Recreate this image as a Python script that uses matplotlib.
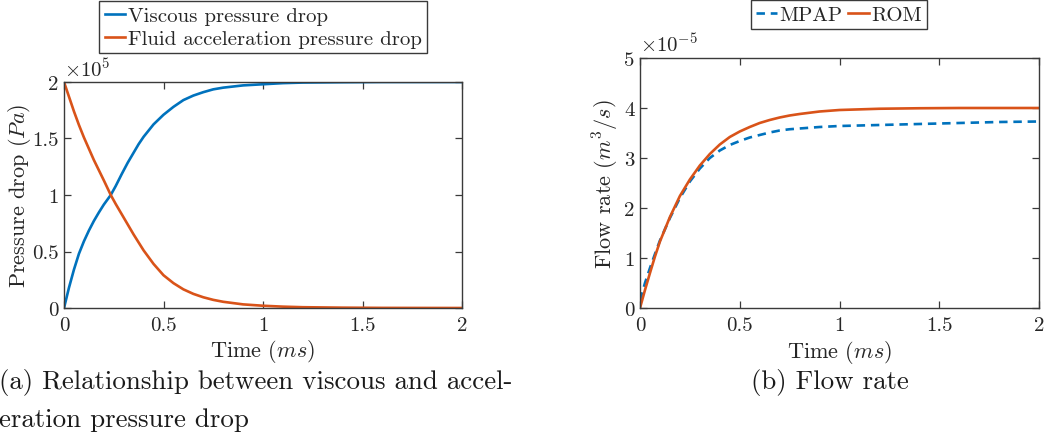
import numpy as np
import matplotlib
matplotlib.use("Agg")
import matplotlib.pyplot as plt
from matplotlib.ticker import FuncFormatter, FixedLocator

plt.rcParams["font.family"] = "serif"
plt.rcParams["font.serif"] = ["cmr10", "DejaVu Serif"]
plt.rcParams["mathtext.fontset"] = "cm"
plt.rcParams["axes.unicode_minus"] = False
plt.rcParams["axes.formatter.use_mathtext"] = True

# ---- (a) pressure drops, in units of 1e5 Pa ----
t_pressure = [0, 0.025, 0.05, 0.075, 0.1, 0.125, 0.15, 0.175, 0.2, 0.235,
              0.26, 0.29, 0.32, 0.35, 0.375, 0.4, 0.45, 0.5, 0.55, 0.6, 0.65,
              0.7, 0.75, 0.8, 0.9, 1.0, 1.1, 1.2, 1.4, 1.6, 1.8, 2.0]
viscous_drop = [0, 0.18, 0.34, 0.48, 0.59, 0.685, 0.77, 0.845, 0.915, 1.0,
                1.08, 1.185, 1.285, 1.375, 1.45, 1.515, 1.625, 1.71, 1.78,
                1.84, 1.88, 1.91, 1.935, 1.95, 1.97, 1.98, 1.99, 1.995, 1.998,
                2.0, 2.0, 2.0]
accel_drop = [2.0, 1.87, 1.74, 1.62, 1.51, 1.41, 1.31, 1.22, 1.13, 1.0,
              0.92, 0.83, 0.74, 0.65, 0.58, 0.51, 0.39, 0.29, 0.22, 0.165,
              0.125, 0.095, 0.072, 0.055, 0.032, 0.02, 0.012, 0.007, 0.003,
              0.001, 0.0005, 0.0]

# ---- (b) flow rate, in units of 1e-5 m^3/s ----
t_flow = [0, 0.025, 0.05, 0.075, 0.1, 0.15, 0.2, 0.25, 0.3, 0.35, 0.4, 0.45,
          0.5, 0.55, 0.6, 0.65, 0.7, 0.75, 0.8, 0.9, 1.0, 1.2, 1.4, 1.6, 1.8,
          2.0]
flow_mpap = [0.15, 0.50, 0.80, 1.08, 1.35, 1.80, 2.20, 2.53, 2.79, 3.00,
             3.15, 3.26, 3.34, 3.41, 3.46, 3.51, 3.55, 3.575, 3.59, 3.62,
             3.64, 3.66, 3.68, 3.70, 3.72, 3.73]
flow_rom = [0, 0.36, 0.70, 1.03, 1.33, 1.82, 2.24, 2.57, 2.85, 3.08, 3.27,
            3.42, 3.53, 3.62, 3.70, 3.76, 3.81, 3.85, 3.88, 3.93, 3.96,
            3.985, 3.995, 4.0, 4.0, 4.0]

x_ticks = [0, 0.5, 1, 1.5, 2]
ya_ticks = [0, 0.5, 1, 1.5, 2]
yb_ticks = [0, 1, 2, 3, 4, 5]

BLUE = "#0072BD"
ORANGE = "#D95319"
AXC = "#3a3a3a"
TXT = "#262626"
TICK_FS = 15
LABEL_FS = 16
LEG_FS = 15
CAP_FS = 19.4

fig = plt.figure(figsize=(10.46, 4.39), dpi=100)
W, H = 1046, 439


def place(x0, x1, ytop, ybot):
    return [x0 / W, (H - ybot) / H, (x1 - x0) / W, (ybot - ytop) / H]


ax_a = fig.add_axes(place(64, 462, 83, 309))
ax_b = fig.add_axes(place(640, 1039, 59, 309))

fmt = FuncFormatter(lambda v, p: f"{v:g}")


def style(ax, yticks, ylim):
    ax.set_xlim(0, 2)
    ax.set_ylim(*ylim)
    ax.xaxis.set_major_locator(FixedLocator(x_ticks))
    ax.yaxis.set_major_locator(FixedLocator(yticks))
    ax.xaxis.set_major_formatter(fmt)
    ax.yaxis.set_major_formatter(fmt)
    ax.tick_params(direction="in", length=5, width=0.9, color=AXC,
                   top=True, right=True, labelsize=TICK_FS, labelcolor=TXT)
    ax.tick_params(axis="x", pad=6)
    ax.tick_params(axis="y", pad=4)
    for s in ax.spines.values():
        s.set_color(AXC)
        s.set_linewidth(1.0)
    ax.set_xlabel("Time ($ms$)", fontsize=LABEL_FS, color=TXT)


style(ax_a, ya_ticks, (0, 2))
style(ax_b, yb_ticks, (0, 5))

la1, = ax_a.plot(t_pressure, viscous_drop, color=BLUE, lw=1.9,
                 label="Viscous pressure drop")
la2, = ax_a.plot(t_pressure, accel_drop, color=ORANGE, lw=1.9,
                 label="Fluid acceleration pressure drop")
ax_a.set_ylabel("Pressure drop ($Pa$)", fontsize=LABEL_FS, color=TXT)
ax_a.xaxis.set_label_coords(0.5, -0.13)
ax_a.yaxis.set_label_coords(-0.078, 0.5)
ax_a.text(0.0, 1.01, r"$\times10^{5}$", transform=ax_a.transAxes,
          fontsize=TICK_FS, ha="left", va="bottom", color=TXT)

lb1, = ax_b.plot(t_flow, flow_mpap, color=BLUE, lw=1.9, ls=(0, (3.2, 2.2)),
                 label="MPAP")
lb2, = ax_b.plot(t_flow, flow_rom, color=ORANGE, lw=1.9, label="ROM")
ax_b.set_ylabel("Flow rate ($m^3/s$)", fontsize=LABEL_FS, color=TXT)
ax_b.xaxis.set_label_coords(0.5, -0.118)
ax_b.yaxis.set_label_coords(-0.048, 0.5)
ax_b.text(0.0, 1.01, r"$\times10^{-5}$", transform=ax_b.transAxes,
          fontsize=TICK_FS, ha="left", va="bottom", color=TXT)

leg_kw = dict(fontsize=LEG_FS, frameon=True, fancybox=False, framealpha=1,
              edgecolor=AXC, handlelength=1.0, handletextpad=0.1,
              borderpad=0.25, labelspacing=0.2, borderaxespad=0)
leg_a = fig.legend(handles=[la1, la2], loc="lower center",
                   bbox_to_anchor=(263 / W, (H - 54) / H), **leg_kw)
leg_b = fig.legend(handles=[lb1, lb2], loc="lower center", ncol=2,
                   columnspacing=0.3,
                   bbox_to_anchor=(839 / W, (H - 30) / H), **leg_kw)
for lg in (leg_a, leg_b):
    lg.get_frame().set_linewidth(1.0)
    for txt in lg.get_texts():
        txt.set_color(TXT)

fig.text(-1 / W, (H - 383) / H,
         "(a) Relationship between viscous and accel-",
         fontsize=CAP_FS, ha="left", va="center", color="#1a1a1a")
fig.text(-1 / W, (H - 420) / H, "eration pressure drop",
         fontsize=CAP_FS, ha="left", va="center", color="#1a1a1a")
fig.text(830 / W, (H - 383) / H, "(b) Flow rate", fontsize=CAP_FS,
         ha="center", va="center", color="#1a1a1a")

fig.savefig("out.png", dpi=100)
